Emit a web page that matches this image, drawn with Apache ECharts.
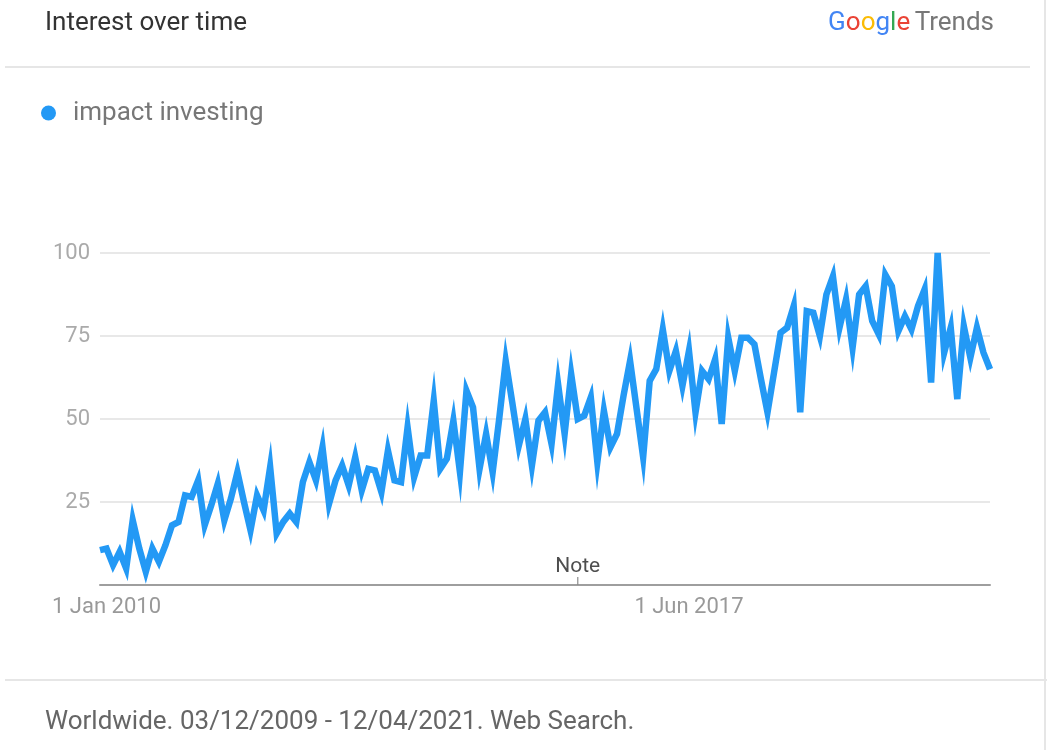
<!DOCTYPE html>
<html>
<head>
<meta charset="utf-8">
<script src="https://cdn.jsdelivr.net/npm/echarts@6/dist/echarts.min.js"></script>
<style>
html,body{margin:0;padding:0;background:#fff;}
#chart{width:1051px;height:750px;}
</style>
</head>
<body>
<div id="chart"></div>
<script>
// Monthly categories Dec 2009 .. Apr 2021
const monthNames = ['Jan','Feb','Mar','Apr','May','Jun','Jul','Aug','Sep','Oct','Nov','Dec'];
const categories = [];
for (let y = 2009, m = 11; y < 2021 || (y === 2021 && m <= 3); ) {
  categories.push('1 ' + monthNames[m] + ' ' + y);
  m++; if (m > 11) { m = 0; y++; }
}
const labelledMonths = ['1 Jan 2010', '1 Jun 2017'];
const noteMonth = '1 Jan 2016';
const yTicks = [0, 25, 50, 75, 100];

const seriesName = 'impact investing';
const interest = [
  10.5, 11, 6, 10, 5, 19.5, 11, 4, 11, 7,
  12, 18, 19, 27, 26.5, 31.5, 18, 24, 30.5, 19.5,
  26, 34, 25, 16.5, 27, 22.5, 35.5, 15.5, 19, 21.5,
  19, 31, 37, 31.5, 41.5, 24.5, 31.5, 36, 30, 38.5,
  28.5, 35, 34.5, 28, 40.5, 31.5, 31, 47.5, 32.5, 39,
  39, 55.5, 35, 38, 49.5, 34, 58.5, 53.5, 35, 45.5,
  34, 50, 67.5, 55, 42, 50, 36, 49.5, 52, 42.5,
  60.5, 45.5, 63.5, 50, 51, 56.5, 37, 52.5, 41.5, 45.5,
  57, 67.5, 53, 38.5, 61.5, 65, 77, 64.5, 70.5, 60,
  70.5, 52, 64.5, 62, 68, 48.5, 74.5, 64.5, 74.5, 74.5,
  72.5, 62, 52, 64, 76, 77.5, 84, 52, 82.5, 82,
  75, 87.5, 93, 77.5, 86, 71.5, 87.5, 90, 79.5, 75.5,
  93.5, 90, 76.5, 81, 77, 84, 89, 61, 100, 70,
  77.5, 56, 78, 68.5, 77.5, 70, 65
];

const chart = echarts.init(document.getElementById('chart'));
const FONT = 'Roboto, "Noto Sans", sans-serif';
const logoStyle = c => ({ color: c, fontSize: 26, fontWeight: 'normal', fontFamily: FONT });
chart.setOption({
  animation: false,
  textStyle: { fontFamily: FONT },
  title: [
    { text: 'Interest over time', left: 40, top: 5,
      textStyle: { fontSize: 26, fontWeight: 'normal', color: '#333', fontFamily: FONT } },
    { text: '{b|G}{r|o}{y|o}{b|g}{g|l}{r|e} {t|Trends}', right: 52, top: 5,
      textStyle: { fontWeight: 'normal', rich: {
        b: logoStyle('#4285f4'), r: logoStyle('#ea4335'), y: logoStyle('#fbbc05'),
        g: logoStyle('#34a853'), t: logoStyle('#777')
      } } },
    { text: 'Worldwide. 03/12/2009 - 12/04/2021. Web Search.', left: 40, top: 704,
      textStyle: { fontSize: 26, fontWeight: 'normal', color: '#666', fontFamily: FONT } }
  ],
  graphic: [
    { type: 'line', shape: { x1: 5, y1: 67, x2: 1030, y2: 67 }, style: { stroke: '#e6e6e6', lineWidth: 2 } },
    { type: 'line', shape: { x1: 5, y1: 680, x2: 1047, y2: 680 }, style: { stroke: '#e6e6e6', lineWidth: 2 } },
    { type: 'line', shape: { x1: 1045, y1: 0, x2: 1045, y2: 750 }, style: { stroke: '#e6e6e6', lineWidth: 2 } }
  ],
  legend: {
    data: [seriesName], left: 36, top: 95, icon: 'circle', itemWidth: 15, itemHeight: 15,
    textStyle: { fontSize: 26, color: '#777', fontFamily: FONT, padding: [0, 0, 0, 12] }
  },
  grid: { left: 100, right: 61, top: 253, bottom: 165, containLabel: false },
  xAxis: {
    type: 'category', data: categories, boundaryGap: false,
    axisLine: { lineStyle: { color: '#9e9e9e', width: 2 } },
    axisTick: { show: false },
    axisLabel: {
      interval: (i, v) => labelledMonths.includes(v), color: '#999', fontSize: 22, margin: 11,
      fontFamily: FONT
    },
    splitLine: { show: false }
  },
  yAxis: {
    type: 'value', min: yTicks[0], max: yTicks[yTicks.length - 1], interval: 25,
    axisLine: { show: false }, axisTick: { show: false },
    axisLabel: { color: '#aaa', fontSize: 22, margin: 10, fontFamily: FONT,
      formatter: v => (v === 0 ? '' : String(v)) },
    splitLine: { lineStyle: { color: '#e0e0e0', width: 1.5 } }
  },
  series: [
    { name: seriesName, type: 'line', data: interest, showSymbol: false, symbol: 'none',
      color: '#2399f5', lineStyle: { width: 6.5, color: '#2399f5', join: 'miter' }, z: 3 },
    { type: 'scatter', data: [[categories.indexOf(noteMonth), 0]], symbol: 'rect',
      symbolSize: [1.5, 8], symbolOffset: [0, -4], itemStyle: { color: '#888' }, z: 4,
      silent: true,
      label: { show: true, formatter: 'Note', position: 'top', distance: 0, color: '#222', fontSize: 21, fontFamily: FONT } }
  ]
});
</script>
</body>
</html>
